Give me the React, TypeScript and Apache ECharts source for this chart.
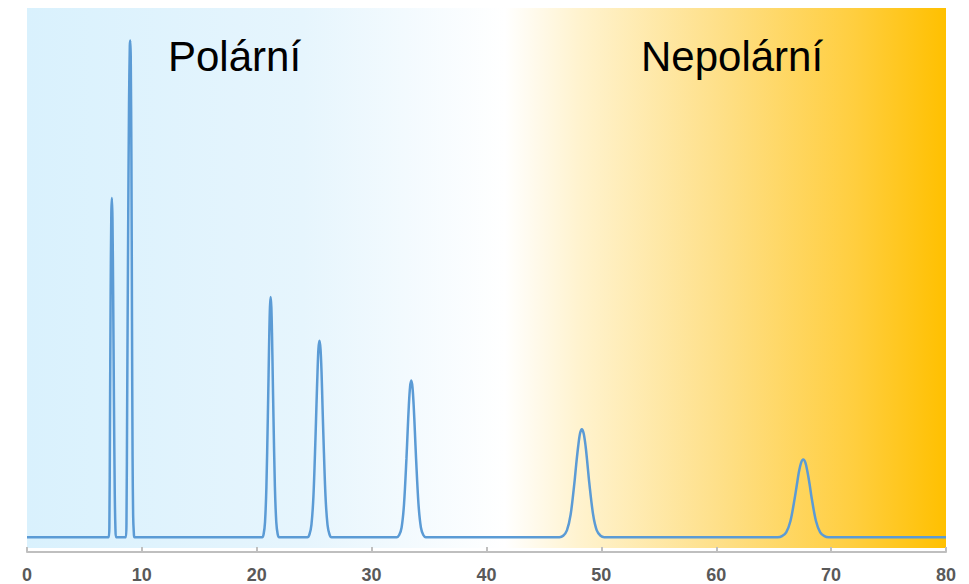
import React, { useEffect, useRef } from "react";
import * as echarts from "echarts";

const xTicks = [0, 10, 20, 30, 40, 50, 60, 70, 80];
const regionLabels = ["Polární", "Nepolární"];

const baselineStart: number[][] = [[0, 0]];
const peak1: number[][] = [
  [7.1, 0], [7.17, 2], [7.22, 20], [7.28, 45], [7.34, 60], [7.39, 62.8],
  [7.44, 59], [7.5, 45], [7.57, 25], [7.64, 8], [7.7, 1.5], [7.76, 0],
];
const peak2: number[][] = [
  [8.6, 0], [8.66, 3], [8.72, 25], [8.8, 55], [8.88, 80], [8.95, 91], [8.99, 92],
  [9.03, 89], [9.09, 70], [9.14, 40], [9.19, 15], [9.24, 4], [9.3, 0.8], [9.36, 0],
];
const peak3: number[][] = [
  [20.47, 0], [20.6, 0.6], [20.72, 2.8], [20.84, 9.3], [20.965, 22.3], [21.03, 30.1],
  [21.09, 37.4], [21.15, 42.6], [21.21, 44.5], [21.27, 42.6], [21.33, 37.4],
  [21.39, 30.1], [21.455, 22.3], [21.58, 9.3], [21.7, 2.8], [21.82, 0.6], [21.95, 0],
];
const peak4: number[][] = [
  [24.41, 0], [24.585, 0.5], [24.76, 2.3], [24.935, 7.6], [25.11, 18.2], [25.2, 24.6],
  [25.29, 30.6], [25.37, 34.9], [25.46, 36.4], [25.55, 34.9], [25.64, 30.6],
  [25.72, 24.6], [25.81, 18.2], [25.985, 7.6], [26.16, 2.3], [26.335, 0.5], [26.51, 0],
];
const peak5: number[][] = [
  [32.19, 0], [32.4, 0.4], [32.61, 1.8], [32.82, 6.1], [33.03, 14.5], [33.135, 19.6],
  [33.24, 24.4], [33.345, 27.8], [33.45, 29.0], [33.555, 27.8], [33.66, 24.4],
  [33.765, 19.6], [33.87, 14.5], [34.08, 6.1], [34.29, 1.8], [34.5, 0.4], [34.71, 0],
];
const peak6: number[][] = [
  [46.35, 0], [46.675, 0.26], [47.0, 1.25], [47.325, 4.2], [47.65, 10.0], [47.81, 13.5],
  [47.98, 16.8], [48.14, 19.2], [48.3, 20.0], [48.46, 19.2], [48.63, 16.8],
  [48.79, 13.5], [48.95, 10.0], [49.28, 4.2], [49.6, 1.25], [49.93, 0.26], [50.25, 0],
];
const peak7: number[][] = [
  [65.35, 0], [65.72, 0.19], [66.09, 0.9], [66.46, 3.0], [66.83, 7.2], [67.02, 9.75],
  [67.2, 12.1], [67.39, 13.8], [67.57, 14.4], [67.76, 13.8], [67.94, 12.1],
  [68.13, 9.75], [68.31, 7.2], [68.68, 3.0], [69.05, 0.9], [69.42, 0.19], [69.79, 0],
];
const baselineEnd: number[][] = [[80, 0]];

export default function App() {
  const ref = useRef<HTMLDivElement>(null);
  useEffect(() => {
    if (!ref.current) return;
    const chart = echarts.init(ref.current, null, { renderer: "svg" });
    const data = [
      ...baselineStart, ...peak1, ...peak2, ...peak3, ...peak4,
      ...peak5, ...peak6, ...peak7, ...baselineEnd,
    ];
    chart.setOption({
      animation: false,
      grid: {
        left: 27, right: 23, top: 8, bottom: 36, show: true, borderWidth: 0,
        backgroundColor: new echarts.graphic.LinearGradient(0, 0, 1, 0, [
          { offset: 0, color: "#D9F1FD" },
          { offset: 0.3, color: "#E6F5FD" },
          { offset: 0.52, color: "#FFFFFF" },
          { offset: 0.6, color: "#FFF3CF" },
          { offset: 0.75, color: "#FEE08A" },
          { offset: 0.9, color: "#FFCE3F" },
          { offset: 1, color: "#FFC000" },
        ]),
      },
      xAxis: {
        type: "value", min: xTicks[0], max: xTicks[xTicks.length - 1], interval: 10,
        offset: 4,
        axisLine: { onZero: false, lineStyle: { color: "#BFBFBF", width: 2 } },
        axisTick: { inside: true, length: 5, lineStyle: { color: "#BFBFBF", width: 2 } },
        splitLine: { show: false },
        axisLabel: {
          color: "#595959", fontWeight: "bold", fontSize: 18, margin: 14,
          fontFamily: "Liberation Sans",
        },
      },
      yAxis: { type: "value", min: -2, max: 98, show: false },
      series: [{
        type: "line", data, showSymbol: false, smooth: 0.3,
        lineStyle: { color: "#5B9BD5", width: 2.5 },
      }],
      graphic: [
        { type: "text", left: 168, top: 35, style: { text: regionLabels[0], fontSize: 42, fontFamily: "Liberation Sans", fill: "#000" } },
        { type: "text", left: 641, top: 35, style: { text: regionLabels[1], fontSize: 42, fontFamily: "Liberation Sans", fill: "#000" } },
      ],
    });
    return () => chart.dispose();
  }, []);
  return <div ref={ref} style={{ width: 969, height: 584, position: "absolute", left: 0, top: 0 }} />;
}
